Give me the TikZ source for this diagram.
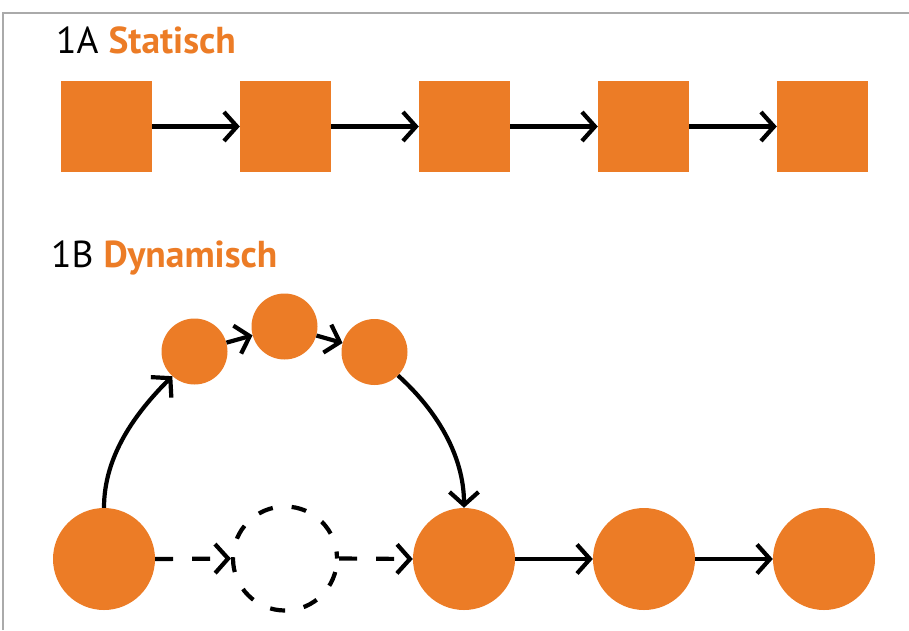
\documentclass[tikz,border=0pt]{standalone}
\usepackage{fontspec}
\setmainfont{PT Sans}
\usetikzlibrary{arrows.meta}
\definecolor{accent}{RGB}{236,124,38}
\definecolor{frame}{RGB}{170,170,170}
\tikzset{
  box/.style={fill=accent, draw=none, minimum size=91pt, inner sep=0pt},
  bigdot/.style={circle, fill=accent, draw=none, minimum size=102pt, inner sep=0pt},
  smalldot/.style={circle, fill=accent, draw=none, minimum size=66pt, inner sep=0pt},
  gap/.style={circle, draw=black, line width=4.2pt, dash pattern=on 15pt off 19pt, dash phase=8pt, minimum size=104pt, inner sep=0pt},
  link/.style={line width=4.2pt, -{Straight Barb[length=13pt,width=29pt,line width=4.2pt]}},
  dlink/.style={link, dash pattern=on 18pt off 19pt},
  title/.style={anchor=base west, inner sep=0pt, font=\fontsize{37.5}{44}\selectfont}
}
\begin{document}
\begin{tikzpicture}[x=1pt,y=1pt]
  \useasboundingbox (0,0) rectangle (909,-630);
  % frame
  \draw[frame, line width=1.5pt] (3,-630) -- (3,-13) -- (909,-13);

  % section 1A
  \node[title] (ta) at (56,-53) {1A \textcolor{accent}{\textbf{Statisch}}};
  \node[box] (s1) at (106.5,-126.5) {};
  \node[box] (s2) at (285.5,-126.5) {};
  \node[box] (s3) at (464.5,-126.5) {};
  \node[box] (s4) at (643.5,-126.5) {};
  \node[box] (s5) at (822.5,-126.5) {};
  \draw[link] (s1) -- (s2);
  \draw[link] (s2) -- (s3);
  \draw[link] (s3) -- (s4);
  \draw[link] (s4) -- (s5);

  % section 1B
  \node[title] (tb) at (51,-267) {1B \textcolor{accent}{\textbf{Dynamisch}}};
  \node[smalldot] (c1) at (194.5,-351.5) {};
  \node[smalldot] (c2) at (284.5,-326.5) {};
  \node[smalldot] (c3) at (374.5,-352) {};
  \node[bigdot] (b1) at (104,-559) {};
  \node[gap] (g) at (285,-558.5) {};
  \node[bigdot] (b3) at (464,-559) {};
  \node[bigdot] (b4) at (644,-559) {};
  \node[bigdot] (b5) at (824,-559) {};

  \draw[link] (c1) -- (c2);
  \draw[link] (c2) -- (c3);
  \draw[link] (b1.north) to[out=90, in=225, looseness=0.9] (c1.228);
  \draw[link] (c3.-45) to[out=-42, in=90, looseness=0.9] (b3.north);
  \draw[dlink] (b1.east) -- (g.west);
  \draw[dlink] (g.east) -- (b3.west);
  \draw[link] (b3) -- (b4);
  \draw[link] (b4) -- (b5);
\end{tikzpicture}
\end{document}
